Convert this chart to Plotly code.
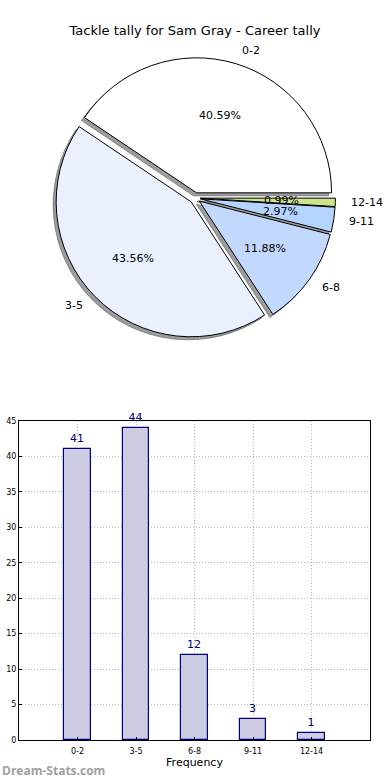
import math
import plotly.graph_objects as go

# ---- data ----
categories = ["0-2", "3-5", "6-8", "9-11", "12-14"]
counts = [41, 44, 12, 3, 1]
pie_colors = ["#FFFFFF", "#EAF0FF", "#C3D8FF", "#B4D5FF", "#CCE58B"]
y_ticks = [0, 5, 10, 15, 20, 25, 30, 35, 40, 45]
title_text = "Tackle tally for Sam Gray - Career tally"

W, H = 390, 780
FONT = "DejaVu Sans"

# ---- pie geometry (pixels) ----
cx, cy, r = 195, 198, 135
pull = 0.04
half = r * (1 + pull)
shadow_dx, shadow_dy = -3, 3

total = sum(counts)
# plotly: with counterclockwise direction the first slice spans [rotation, rotation+size] clockwise
# we want the first slice to start at 3 o'clock and go counterclockwise
pie_rotation = 90 - 360 * counts[0] / total


def px_to_paper(px, py):
    return px / W, 1 - py / H


dom_x = [(cx - half) / W, (cx + half) / W]
dom_y = [1 - (cy + half) / H, 1 - (cy - half) / H]
sdom_x = [(cx - half + shadow_dx) / W, (cx + half + shadow_dx) / W]
sdom_y = [1 - (cy + half + shadow_dy) / H, 1 - (cy - half + shadow_dy) / H]

fig = go.Figure()

# shadow pie
fig.add_trace(go.Pie(
    labels=categories, values=counts, sort=False, direction="counterclockwise",
    rotation=pie_rotation, pull=[pull] * len(counts), textinfo="none", hoverinfo="skip",
    marker=dict(colors=["rgba(77,77,77,0.55)"] * len(counts),
                line=dict(color="rgba(77,77,77,0.55)", width=1)),
    domain=dict(x=sdom_x, y=sdom_y), showlegend=False,
))
# main pie
fig.add_trace(go.Pie(
    labels=categories, values=counts, sort=False, direction="counterclockwise",
    rotation=pie_rotation, pull=[pull] * len(counts), textinfo="none",
    marker=dict(colors=pie_colors, line=dict(color="black", width=1)),
    domain=dict(x=dom_x, y=dom_y), showlegend=False,
))

annotations = []
cum = 0.0
for cat, v in zip(categories, counts):
    frac = v / total
    th = 2 * math.pi * (cum + frac / 2)
    cum += frac
    ex = cx + pull * r * math.cos(th)
    ey = cy - pull * r * math.sin(th)
    # percentage text
    px, py = ex + 0.6 * r * math.cos(th), ey - 0.6 * r * math.sin(th)
    xp, yp = px_to_paper(px, py)
    annotations.append(dict(x=xp, y=yp, xref="paper", yref="paper",
                            text=f"{100 * frac:.2f}%", showarrow=False,
                            xanchor="center", yanchor="middle",
                            font=dict(family=FONT, size=11, color="black")))
    # category label
    lx, ly = ex + 1.1 * r * math.cos(th), ey - 1.1 * r * math.sin(th)
    xl, yl = px_to_paper(lx, ly)
    annotations.append(dict(x=xl, y=yl, xref="paper", yref="paper",
                            text=cat, showarrow=False,
                            xanchor="left" if math.cos(th) > 0 else "right",
                            yanchor="middle",
                            font=dict(family=FONT, size=11, color="black")))

# ---- bar chart ----
fig.add_trace(go.Bar(
    x=list(range(len(categories))), y=counts, width=0.45,
    marker=dict(color="#CCCCE2", line=dict(color="#000080", width=1.2)),
    text=[str(c) for c in counts], textposition="outside",
    textfont=dict(family=FONT, size=11, color="#000080"),
    constraintext="none", cliponaxis=False, showlegend=False,
    xaxis="x", yaxis="y",
))

annotations.append(dict(x=0.0, y=1 - 770 / H, xref="paper", yref="paper",
                        text="<b>Dream-Stats.com</b>", showarrow=False,
                        xanchor="left", yanchor="middle",
                        font=dict(family="Open Sans", size=12, color="#A0A0A0")))

fig.update_layout(
    width=W, height=H,
    margin=dict(l=0, r=0, t=0, b=0),
    paper_bgcolor="white", plot_bgcolor="white",
    title=dict(text=title_text, x=0.5, xanchor="center", y=1 - 30 / H,
               yanchor="middle", font=dict(family=FONT, size=13, color="black")),
    xaxis=dict(domain=[19 / W, 370 / W], anchor="y", range=[-1, 5],
               automargin=False,
               tickmode="array", tickvals=list(range(len(categories))),
               ticktext=categories, tickfont=dict(family=FONT, size=8, color="black"),
               ticklabelstandoff=3,
               showline=True, mirror=True, linecolor="black", linewidth=1,
               ticks="inside", ticklen=3, tickcolor="black",
               showgrid=True, gridcolor="#B8B8B8", griddash="1px,2px", gridwidth=1,
               zeroline=False,
               title=dict(text="Frequency", standoff=1,
                          font=dict(family=FONT, size=11, color="black"))),
    yaxis=dict(domain=[1 - 740 / H, 1 - 421 / H], anchor="x", range=[0, 45],
               automargin=False,
               tickmode="array", tickvals=y_ticks,
               tickfont=dict(family=FONT, size=8, color="black"),
               showline=True, mirror=True, linecolor="black", linewidth=1,
               ticks="inside", ticklen=3, tickcolor="black",
               showgrid=True, gridcolor="#B8B8B8", griddash="1px,2px", gridwidth=1,
               zeroline=False),
    annotations=annotations,
    bargap=0,
)

post = (
    "document.documentElement.style.margin='0';"
    "document.documentElement.style.padding='0';"
    "document.documentElement.style.overflow='hidden';"
    "document.body.style.margin='0';"
    "document.body.style.padding='0';"
    "document.body.style.overflow='hidden';"
    "var gd=document.querySelector('.plotly-graph-div');"
    "if(gd&&gd.parentElement){gd.parentElement.style.height='780px';"
    "gd.parentElement.style.overflow='hidden';}"
)

fig.write_html("out.html", config={"displayModeBar": False}, post_script=post)
